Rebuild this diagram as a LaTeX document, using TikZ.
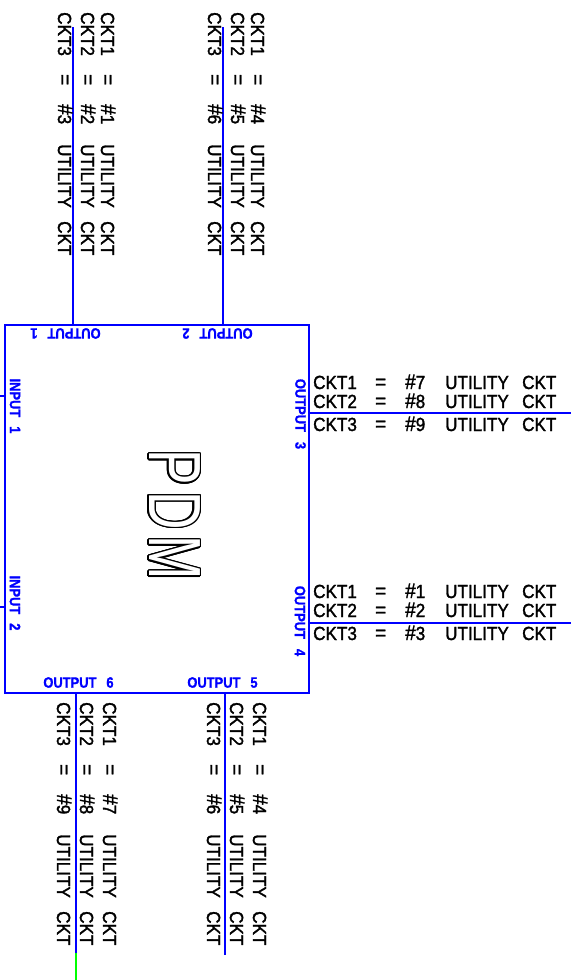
\documentclass[tikz,border=0pt]{standalone}
\usepackage{fontspec}
\usepackage[copies]{contour}
\setmainfont{Liberation Sans}
\newfontfamily\ckfont[FakeStretch=0.9,FakeBold=1.6]{Liberation Sans}
\newfontfamily\lblfont[FakeStretch=0.86,FakeBold=1.2]{Liberation Sans}
\newfontfamily\pdmfont[FakeStretch=0.72]{Liberation Sans}
\definecolor{cadblue}{RGB}{0,0,255}
\definecolor{cadgreen}{RGB}{0,255,0}
\contourlength{1.3pt}
\newcommand\cktline[2]{\makebox[62pt][l]{CKT#1}\makebox[30pt][l]{\fontsize{21}{19}\selectfont=}\makebox[40pt][l]{{\fontsize{21}{19}\selectfont\#}#2}\makebox[77pt][l]{UTILITY}CKT}
\tikzset{
  wire/.style={draw=cadblue, line width=1.6pt},
  ckt/.style={inner sep=0pt, anchor=base west, font=\ckfont\fontsize{19}{19}\selectfont},
  cktv/.style={ckt, rotate=-90},
  lbl/.style={inner sep=0pt, text=cadblue, font=\lblfont\bfseries\fontsize{15}{15}\selectfont},
  box/.style={draw=cadblue, line width=1.6pt, rectangle, inner sep=0pt, minimum width=304pt, minimum height=368pt}
}
\begin{document}
\begin{tikzpicture}[x=1pt,y=-1pt]
\useasboundingbox (0,0) rectangle (581,980);
% main box
\node[box] (pdm) at (157,509) {};
% free ends of connectors
\coordinate (o1) at (73,27);
\coordinate (o2) at (223,27);
\coordinate (o3) at (571,413);
\coordinate (o4) at (571,623);
\coordinate (o6) at (76,953);
\coordinate (o6g) at (76,980);
\coordinate (o5) at (225,955);
\coordinate (i1) at (0,396);
\coordinate (i2) at (0,607);
% connectors
\draw[wire] (pdm.north -| o1) -- (o1);
\draw[wire] (pdm.north -| o2) -- (o2);
\draw[wire] (pdm.east |- o3) -- (o3);
\draw[wire] (pdm.east |- o4) -- (o4);
\draw[wire] (pdm.south -| o6) -- (o6);
\draw[draw=cadgreen, line width=1.6pt] (o6) -- (o6g);
\draw[wire] (pdm.south -| o5) -- (o5);
\draw[wire] (pdm.west |- i1) -- (i1);
\draw[wire] (pdm.west |- i2) -- (i2);
% PDM
\node[inner sep=0pt, rotate=-90, font=\pdmfont\fontsize{74}{74}\selectfont] (pdmtxt) at (174,515) {\contour{black}{\color{white}P\hspace{6pt}D\hspace{6pt}M}};
% port labels
\node[lbl, rotate=180] (l1) at (65.5,333.5) {OUTPUT\hspace{10pt}1};
\node[lbl, rotate=180] (l2) at (217.5,333.5) {OUTPUT\hspace{10pt}2};
\node[lbl, rotate=-90] (l3) at (300.5,414) {OUTPUT\hspace{10pt}3};
\node[lbl, rotate=-90] (l4) at (300,621) {OUTPUT\hspace{10pt}4};
\node[lbl] (l5) at (222.5,682.5) {OUTPUT\hspace{10pt}5};
\node[lbl] (l6) at (78.5,682.5) {OUTPUT\hspace{10pt}6};
\node[lbl, rotate=-90] (li1) at (15,406) {INPUT\hspace{9pt}1};
\node[lbl, rotate=-90] (li2) at (15,603) {INPUT\hspace{9pt}2};
% right side texts
\node[ckt] (r31) at (313,389) {\cktline{1}{7}};
\node[ckt] (r32) at (313,408) {\cktline{2}{8}};
\node[ckt] (r33) at (313,431) {\cktline{3}{9}};
\node[ckt] (r41) at (313,598) {\cktline{1}{1}};
\node[ckt] (r42) at (313,617) {\cktline{2}{2}};
\node[ckt] (r43) at (313,640) {\cktline{3}{3}};
% top texts
\node[cktv] (t11) at (101,12) {\cktline{1}{1}};
\node[cktv] (t12) at (81,12) {\cktline{2}{2}};
\node[cktv] (t13) at (58,12) {\cktline{3}{3}};
\node[cktv] (t21) at (251,12) {\cktline{1}{4}};
\node[cktv] (t22) at (231,12) {\cktline{2}{5}};
\node[cktv] (t23) at (208,12) {\cktline{3}{6}};
% bottom texts
\node[cktv] (b61) at (103,702) {\cktline{1}{7}};
\node[cktv] (b62) at (80,702) {\cktline{2}{8}};
\node[cktv] (b63) at (57,702) {\cktline{3}{9}};
\node[cktv] (b51) at (253,702) {\cktline{1}{4}};
\node[cktv] (b52) at (230,702) {\cktline{2}{5}};
\node[cktv] (b53) at (207,702) {\cktline{3}{6}};
\end{tikzpicture}
\end{document}
